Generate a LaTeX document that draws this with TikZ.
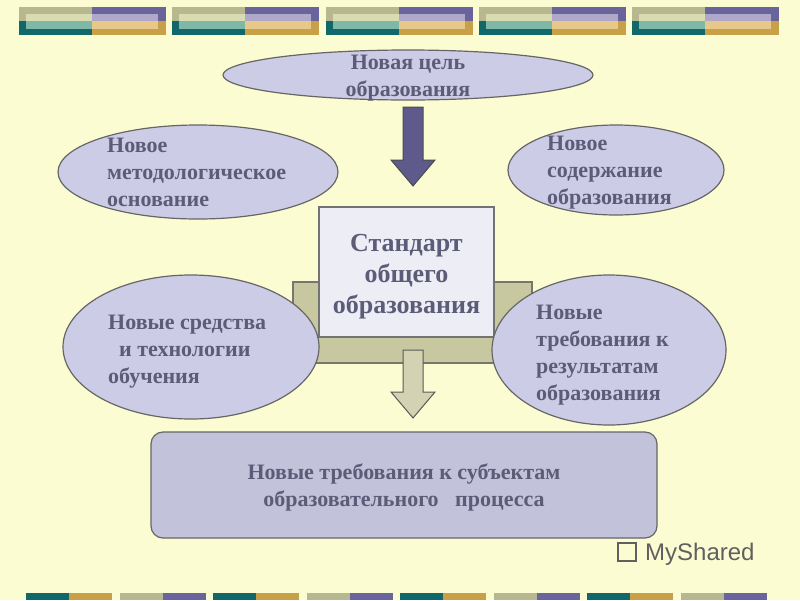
\documentclass[tikz,border=0pt]{standalone}
\usepackage{fontspec}
\setmainfont{Liberation Serif}
\newfontfamily\logofont{Liberation Sans}
\usetikzlibrary{shapes.geometric}
\begin{document}
\begin{tikzpicture}[x=1pt,y=-1pt,
  bub/.style={draw=gray!80!black,line width=1.2pt,fill=lav},
  txt/.style={font=\bfseries\fontsize{22}{27}\selectfont,text=tx,align=left,anchor=north west,inner sep=0pt},
  ctxt/.style={font=\bfseries\fontsize{22}{27}\selectfont,text=tx,align=center,inner sep=0pt}]
\definecolor{bg}{HTML}{FCFCD2}
\definecolor{lav}{HTML}{CCCCE6}
\definecolor{tx}{HTML}{5C5C78}
\definecolor{olv}{HTML}{C8C8A0}
\definecolor{gr}{HTML}{B8B890}
\definecolor{pu}{HTML}{6A649C}
\definecolor{te}{HTML}{10686A}
\definecolor{go}{HTML}{C8A048}
\definecolor{grl}{HTML}{D8DCB0}
\definecolor{pul}{HTML}{B0A8C8}
\definecolor{tel}{HTML}{80B8A8}
\definecolor{gol}{HTML}{E8C888}
\fill[bg] (0,0) rectangle (800,600);
\useasboundingbox (0,0) rectangle (800,600);
% top bars
\foreach \i in {0,...,4}{
  \begin{scope}[xshift=\i*153.3pt]
  \fill[gr] (19,7) rectangle (92,21);
  \fill[pu] (92,7) rectangle (166,21);
  \fill[te] (19,21) rectangle (92,35);
  \fill[go] (92,21) rectangle (166,35);
  \fill[grl] (26,14) rectangle (92,21);
  \fill[pul] (92,14) rectangle (158,21);
  \fill[tel] (26,21) rectangle (92,29);
  \fill[gol] (92,21) rectangle (158,29);
  \end{scope}}
% bottom bars
\foreach \i in {0,...,7}{
  \pgfmathsetmacro{\xs}{26+\i*93.5}
  \ifodd\i
    \fill[gr] (\xs,593) rectangle (\xs+43,600);
    \fill[pu] (\xs+43,593) rectangle (\xs+86,600);
  \else
    \fill[te] (\xs,593) rectangle (\xs+43,600);
    \fill[go] (\xs+43,593) rectangle (\xs+86,600);
  \fi}
% top ellipse
\node[bub,ellipse,minimum width=370pt,minimum height=50pt] (goal) at (408,75) {};
\node[ctxt] (goalt) at (408,78) {Новая цель\\образования};
% dark arrow
\draw[fill=pu!90!black,draw=gray!60!black,line width=1pt] (403,107) -- (423,107) -- (423,160) -- (435,160) -- (413,186) -- (391,160) -- (403,160) -- cycle;
% ellipses
\node[bub,ellipse,minimum width=280pt,minimum height=94pt] (meth) at (198,172) {};
\node[txt] (metht) at (107,138) {Новое\\методологическое\\основание};
\node[bub,ellipse,minimum width=216pt,minimum height=90pt] (cont) at (616,170) {};
\node[txt] (contt) at (547,136) {Новое\\содержание\\образования};
% olive back box
\node[draw=gray!70!olv!80!black,line width=1.2pt,fill=olv,minimum width=239pt,minimum height=81pt,inner sep=0pt] (back) at (412.5,322.5) {};
% center box
\node[draw=gray!90!black,line width=1.2pt,fill=lav!35!white,minimum width=175pt,minimum height=130pt,inner sep=0pt] (std) at (406.5,272) {};
\node[font=\bfseries\fontsize{26}{31}\selectfont,text=tx,align=center] (stdt) at (406.5,277) {Стандарт\\общего\\образования};
% lower ellipses
\node[bub,ellipse,minimum width=256pt,minimum height=144pt] (tech) at (191,347) {};
\node[txt] (techt) at (108,315) {Новые средства\\\ \ и технологии\\обучения};
\node[bub,ellipse,minimum width=234pt,minimum height=150pt] (req) at (609,350) {};
\node[txt] (reqt) at (536,305) {Новые\\требования к\\результатам\\образования};
% olive arrow
\draw[fill=olv!80!white,draw=gray!70!black,line width=1pt] (403,350) -- (423,350) -- (423,392) -- (435,392) -- (413,418) -- (391,392) -- (403,392) -- cycle;
% bottom box
\node[draw=gray!80!black,line width=1.2pt,fill=lav!95!black,rounded corners=12pt,minimum width=506pt,minimum height=106pt,inner sep=0pt] (subj) at (404,485) {};
\node[ctxt] (subjt) at (404,487) {Новые требования к субъектам\\образовательного\ \ \ процесса};
% logo
\node[font=\logofont\fontsize{24}{24}\selectfont,text=gray!75!black,anchor=west,inner sep=0pt] (logo) at (645,554) {MyShared};
\node[draw=gray!75!black,line width=1.5pt,minimum width=18pt,minimum height=18pt,inner sep=0pt] (icon) at (627,552) {};
\end{tikzpicture}
\end{document}
